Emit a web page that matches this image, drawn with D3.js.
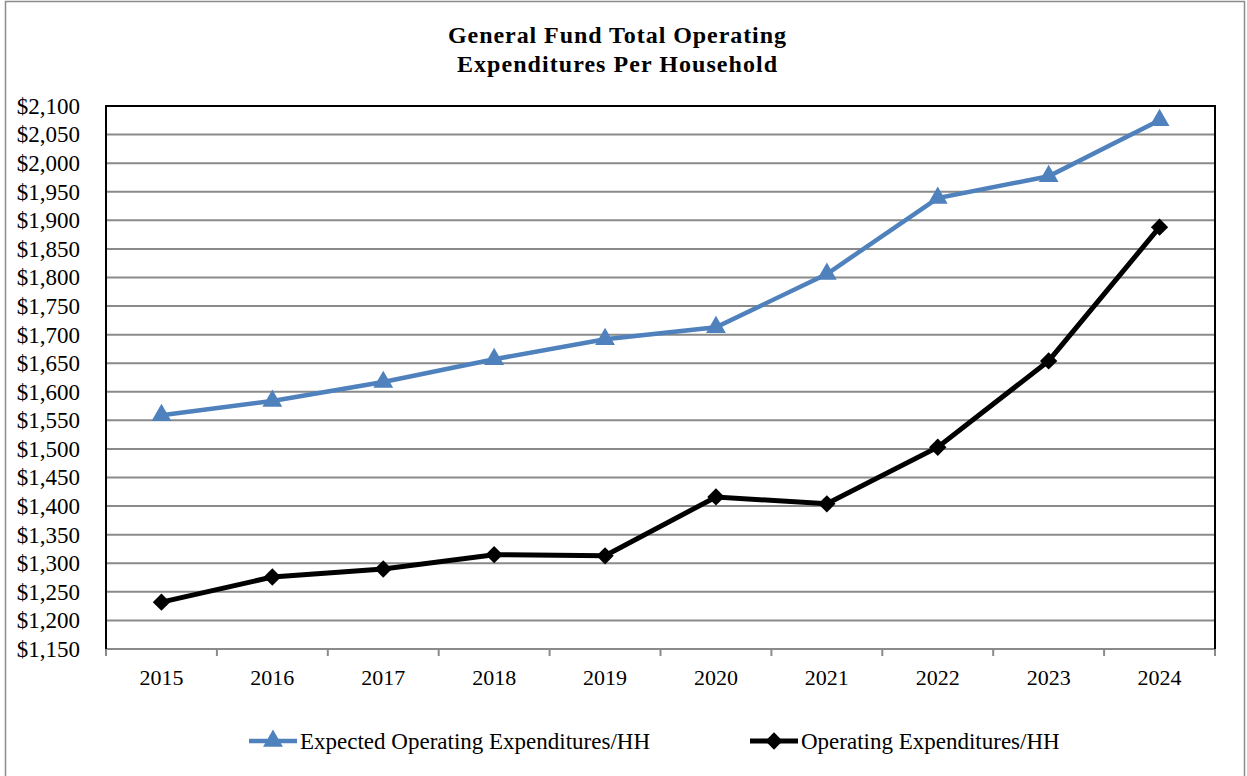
<!DOCTYPE html>
<html><head><meta charset="utf-8">
<script src="https://cdn.jsdelivr.net/npm/d3@7"></script>
<style>body{margin:0;background:#fff;} text{font-family:"Liberation Serif","Times New Roman",serif;}</style>
</head><body>
<svg id="c" width="1247" height="776"></svg>
<script>
const years = ["2015","2016","2017","2018","2019","2020","2021","2022","2023","2024"];
const expected = [1559,1584,1617,1657,1692,1713,1806,1939,1977,2075];
const operating = [1232,1276,1290,1315,1313,1416,1404,1503,1654,1888];
const yTicks = [1150,1200,1250,1300,1350,1400,1450,1500,1550,1600,1650,1700,1750,1800,1850,1900,1950,2000,2050,2100];
const titleLines = ["General Fund Total Operating","Expenditures Per Household"];
const seriesNames = ["Expected Operating Expenditures/HH","Operating Expenditures/HH"];

const svg = d3.select("#c");
const L=106,R=1215,T=106,B=649;
svg.append("rect").attr("x",5.5).attr("y",1.5).attr("width",1239).attr("height",780).attr("fill","none").attr("stroke","#8c8c8c").attr("stroke-width",1.5);

const x = d3.scaleBand().domain(years).range([L,R]).padding(0);
const y = d3.scaleLinear().domain([1150,2100]).range([B,T]);

// gridlines
svg.append("g").selectAll("line").data(yTicks.slice(1,-1)).join("line")
  .attr("x1",L).attr("x2",R).attr("y1",d=>y(d)).attr("y2",d=>y(d))
  .attr("stroke","#8a8a8a").attr("stroke-width",2);

// y axis labels
const ya = svg.append("g").attr("transform",`translate(${L},0)`)
  .call(d3.axisLeft(y).tickValues(yTicks).tickSize(0).tickPadding(26).tickFormat(d=>"$"+d3.format(",")(d)));
ya.select(".domain").remove();
ya.attr("font-family",null);
ya.selectAll("text").attr("font-size",23).attr("fill","#000");

// x axis
const xa = svg.append("g").attr("transform",`translate(0,${B})`)
  .call(d3.axisBottom(x).tickSize(0));
xa.select(".domain").remove();
xa.attr("font-family",null);
xa.selectAll("text").attr("font-size",22).attr("fill","#000").attr("y",36).attr("dy",0);
const bounds = years.map(d=>x(d)).concat([R]);
svg.append("g").selectAll("line").data(bounds).join("line")
  .attr("x1",d=>d).attr("x2",d=>d).attr("y1",B).attr("y2",B+7)
  .attr("stroke","#8a8a8a").attr("stroke-width",2);
svg.append("line").attr("x1",L).attr("x2",R).attr("y1",B).attr("y2",B).attr("stroke","#8a8a8a").attr("stroke-width",2);

// frame
svg.append("path").attr("d",`M${L},${B}V${T}H${R}V${B}`).attr("fill","none").attr("stroke","#000").attr("stroke-width",2);

const cx = d=>x(d)+x.bandwidth()/2;
const line = d3.line().x((d,i)=>cx(years[i])).y(d=>y(d));
svg.append("path").datum(expected).attr("d",line).attr("fill","none").attr("stroke","#4f81bd").attr("stroke-width",4.5);
svg.append("path").datum(operating).attr("d",line).attr("fill","none").attr("stroke","#000").attr("stroke-width",5);

const tri = d3.symbol().type(d3.symbolTriangle).size(170);
const sq = d3.symbol().type(d3.symbolSquare).size(150);
svg.append("g").selectAll("path").data(expected).join("path")
  .attr("d",tri).attr("fill","#4f81bd").attr("transform",(d,i)=>`translate(${cx(years[i])},${y(d)})`);
svg.append("g").selectAll("path").data(operating).join("path")
  .attr("d",sq).attr("fill","#000").attr("transform",(d,i)=>`translate(${cx(years[i])},${y(d)}) rotate(45)`);

// title
const tl = [338,320];
svg.append("g").selectAll("text").data(titleLines).join("text")
  .attr("x",617).attr("y",(d,i)=>43+i*29).attr("text-anchor","middle")
  .attr("font-size",24).attr("font-weight","bold")
  .attr("textLength",(d,i)=>tl[i]).attr("lengthAdjust","spacing").text(d=>d);

// legend
const leg = [{x:249,c:"#4f81bd",s:tri,w:4.5,r:0},{x:750,c:"#000",s:sq,w:5,r:45}];
leg.forEach((l,i)=>{
  const g = svg.append("g");
  g.append("line").attr("x1",l.x).attr("x2",l.x+48).attr("y1",741).attr("y2",741).attr("stroke",l.c).attr("stroke-width",l.w);
  g.append("path").attr("d",l.s).attr("fill",l.c).attr("transform",`translate(${l.x+24},741) rotate(${l.r})`);
  g.append("text").attr("x",l.x+51).attr("y",749).attr("font-size",23).text(seriesNames[i]);
});
</script>
</body></html>
